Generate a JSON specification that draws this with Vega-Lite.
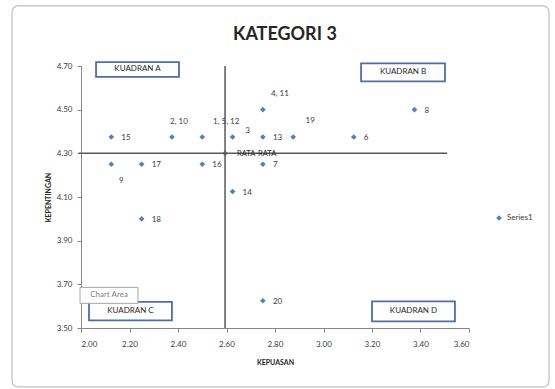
{
  "$schema": "https://vega.github.io/schema/vega-lite/v6.json",
  "width": 388,
  "height": 262,
  "autosize": "none",
  "padding": {"left": 81, "top": 66, "right": 86, "bottom": 61},
  "background": "white",
  "config": {
    "view": {"stroke": null},
    "font": "Lato",
    "axis": {"grid": false, "domainColor": "#868686", "tickColor": "#868686", "labelColor": "#404040", "labelFontSize": 8, "labelFont": "Lato", "titleFont": "Lato", "titleFontSize": 7, "titleFontWeight": "bold", "titleColor": "#262626", "zindex": 1}
  },
  "datasets": {
    "border": [{"x": 1.7155, "x2": 3.93, "y": 4.975, "y2": 3.23}],
    "titletext": [{"x": 2.841, "y": 4.842, "label": "KATEGORI 3"}],
    "hline": [{"x": 1.99, "x2": 3.51, "y": 4.3}],
    "vline": [{"x": 2.594, "y": 3.5, "y2": 4.7}],
    "points": [
      {"x": 2.125, "y": 4.375, "label": "15", "series": "Series1"},
      {"x": 2.125, "y": 4.25, "label": "9", "series": "Series1"},
      {"x": 2.25, "y": 4.25, "label": "17", "series": "Series1"},
      {"x": 2.375, "y": 4.375, "label": "2, 10", "series": "Series1"},
      {"x": 2.5, "y": 4.375, "label": "1, 5, 12", "series": "Series1"},
      {"x": 2.5, "y": 4.25, "label": "16", "series": "Series1"},
      {"x": 2.625, "y": 4.375, "label": "3", "series": "Series1"},
      {"x": 2.625, "y": 4.125, "label": "14", "series": "Series1"},
      {"x": 2.75, "y": 4.5, "label": "4, 11", "series": "Series1"},
      {"x": 2.75, "y": 4.375, "label": "13", "series": "Series1"},
      {"x": 2.75, "y": 4.25, "label": "7", "series": "Series1"},
      {"x": 2.875, "y": 4.375, "label": "19", "series": "Series1"},
      {"x": 3.125, "y": 4.375, "label": "6", "series": "Series1"},
      {"x": 3.375, "y": 4.5, "label": "8", "series": "Series1"},
      {"x": 2.25, "y": 4.0, "label": "18", "series": "Series1"},
      {"x": 2.75, "y": 3.625, "label": "20", "series": "Series1"},
      {"x": 2.594, "y": 4.3, "label": "RATA-RATA", "series": "Series1"}
    ],
    "boxes": [
      {"x": 2.062, "x2": 2.404, "y": 4.718, "y2": 4.65, "label": "KUADRAN A"},
      {"x": 3.155, "x2": 3.501, "y": 4.712, "y2": 4.63, "label": "KUADRAN B"},
      {"x": 2.033, "x2": 2.375, "y": 3.62, "y2": 3.535, "label": "KUADRAN C"},
      {"x": 3.2, "x2": 3.542, "y": 3.622, "y2": 3.53, "label": "KUADRAN D"}
    ],
    "tip": [{"x": 1.996, "x2": 2.235, "y": 3.686, "y2": 3.613, "label": "Chart Area"}]
  },
  "encoding": {
    "x": {"field": "x", "type": "quantitative", "scale": {"domain": [2.0, 3.6], "nice": false, "zero": false},
          "axis": {"title": "KEPUASAN", "values": [2.0, 2.2, 2.4, 2.6, 2.8, 3.0, 3.2, 3.4, 3.6], "format": ".2f", "tickSize": 4, "labelPadding": 8, "titlePadding": 10}},
    "y": {"field": "y", "type": "quantitative", "scale": {"domain": [3.5, 4.7], "nice": false, "zero": false},
          "axis": {"title": "KEPENTINGAN", "values": [3.5, 3.7, 3.9, 4.1, 4.3, 4.5, 4.7], "format": ".2f", "tickSize": 4, "labelPadding": 5, "titlePadding": 5}}
  },
  "layer": [
    {
      "data": {"name": "border"},
      "mark": {"type": "rect", "fill": null, "fillOpacity": 0, "stroke": "#bfbfbf", "strokeWidth": 1.2, "cornerRadius": 6},
      "encoding": {"x2": {"field": "x2"}, "y2": {"field": "y2"}}
    },
    {
      "data": {"name": "titletext"},
      "mark": {"type": "text", "align": "center", "baseline": "middle", "fontSize": 18, "fontWeight": "bold", "color": "#262626"},
      "encoding": {"text": {"field": "label"}}
    },
    {
      "data": {"name": "points"},
      "mark": {"type": "point", "shape": "diamond", "filled": true, "size": 32, "opacity": 1},
      "encoding": {
        "color": {"field": "series", "type": "nominal", "scale": {"range": ["#4F81BD"]},
                  "legend": {"title": null, "orient": "none", "legendX": 414, "legendY": 148, "symbolType": "diamond", "symbolSize": 32, "labelFontSize": 8, "labelColor": "#404040", "labelFont": "Lato"}}
      }
    },
    {
      "data": {"name": "hline"},
      "mark": {"type": "rule", "color": "#595959", "strokeWidth": 1.5},
      "encoding": {"x2": {"field": "x2"}}
    },
    {
      "data": {"name": "vline"},
      "mark": {"type": "rule", "color": "#595959", "strokeWidth": 1.5},
      "encoding": {"y2": {"field": "y2"}}
    },
    {
      "data": {"name": "points"},
      "transform": [{"filter": {"field": "label", "oneOf": ["15", "17", "16", "13", "6", "8", "7", "14", "20", "18"]}}],
      "mark": {"type": "text", "align": "left", "baseline": "middle", "dx": 10, "dy": 1, "fontSize": 8, "color": "#404040"},
      "encoding": {"text": {"field": "label"}}
    },
    {
      "data": {"name": "points"},
      "transform": [{"filter": {"field": "label", "equal": "RATA-RATA"}}],
      "mark": {"type": "text", "align": "left", "baseline": "middle", "dx": 12, "dy": 1, "fontSize": 7.5, "color": "#262626"},
      "encoding": {"text": {"field": "label"}}
    },
    {
      "data": {"name": "points"},
      "transform": [{"filter": {"field": "label", "oneOf": ["2, 10"]}}],
      "mark": {"type": "text", "align": "center", "baseline": "middle", "dx": 7, "dy": -15, "fontSize": 8, "color": "#404040"},
      "encoding": {"text": {"field": "label"}}
    },
    {
      "data": {"name": "points"},
      "transform": [{"filter": {"field": "label", "oneOf": ["1, 5, 12"]}}],
      "mark": {"type": "text", "align": "center", "baseline": "middle", "dx": 24, "dy": -15, "fontSize": 8, "color": "#404040"},
      "encoding": {"text": {"field": "label"}}
    },
    {
      "data": {"name": "points"},
      "transform": [{"filter": {"field": "label", "oneOf": ["4, 11", "19"]}}],
      "mark": {"type": "text", "align": "center", "baseline": "middle", "dx": 17, "dy": -16, "fontSize": 8, "color": "#404040"},
      "encoding": {"text": {"field": "label"}}
    },
    {
      "data": {"name": "points"},
      "transform": [{"filter": {"field": "label", "oneOf": ["3"]}}],
      "mark": {"type": "text", "align": "center", "baseline": "middle", "dx": 15, "dy": -6, "fontSize": 8, "color": "#404040"},
      "encoding": {"text": {"field": "label"}}
    },
    {
      "data": {"name": "points"},
      "transform": [{"filter": {"field": "label", "oneOf": ["9"]}}],
      "mark": {"type": "text", "align": "center", "baseline": "middle", "dx": 10, "dy": 17, "fontSize": 8, "color": "#404040"},
      "encoding": {"text": {"field": "label"}}
    },
    {
      "data": {"name": "boxes"},
      "mark": {"type": "rect", "fill": "white", "stroke": "#4F6EA8", "strokeWidth": 1.8},
      "encoding": {"x2": {"field": "x2"}, "y2": {"field": "y2"}}
    },
    {
      "data": {"name": "boxes"},
      "transform": [{"calculate": "(datum.x + datum.x2) / 2", "as": "x"}, {"calculate": "(datum.y + datum.y2) / 2", "as": "y"}],
      "mark": {"type": "text", "align": "center", "baseline": "middle", "fontSize": 8, "color": "#262626"},
      "encoding": {"text": {"field": "label"}}
    },
    {
      "data": {"name": "tip"},
      "mark": {"type": "rect", "fill": "white", "stroke": "#a6a6a6", "strokeWidth": 1},
      "encoding": {"x2": {"field": "x2"}, "y2": {"field": "y2"}}
    },
    {
      "data": {"name": "tip"},
      "transform": [{"calculate": "(datum.x + datum.x2) / 2", "as": "x"}, {"calculate": "(datum.y + datum.y2) / 2", "as": "y"}],
      "mark": {"type": "text", "align": "center", "baseline": "middle", "fontSize": 8, "color": "#7f7f7f"},
      "encoding": {"text": {"field": "label"}}
    }
  ]
}
